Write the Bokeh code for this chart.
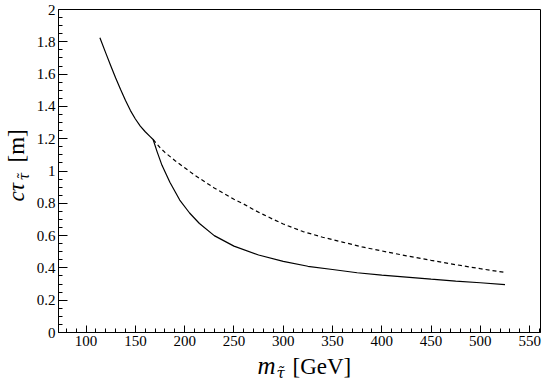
from bokeh.plotting import figure
from bokeh.models import Range1d, Title, FixedTicker
from bokeh.embed import file_html
from bokeh.resources import INLINE

# --- data ---
mass_solid = [114, 120, 125, 130, 135, 140, 145, 150, 155, 160, 165, 168, 172, 177,
              185, 195, 205, 215, 230, 250, 275, 300, 325, 350, 375, 400, 425, 450,
              475, 500, 525]
ctau_solid = [1.825, 1.73, 1.652, 1.576, 1.505, 1.437, 1.374, 1.322, 1.278, 1.243,
              1.213, 1.195, 1.12, 1.035, 0.93, 0.82, 0.74, 0.675, 0.60, 0.535, 0.48,
              0.44, 0.41, 0.39, 0.37, 0.355, 0.343, 0.33, 0.318, 0.308, 0.297]

mass_dash = [168, 175, 180, 190, 200, 210, 220, 230, 240, 250, 260, 270, 280, 290,
             300, 320, 340, 360, 380, 400, 425, 450, 475, 500, 525]
ctau_dash = [1.195, 1.145, 1.115, 1.065, 1.02, 0.975, 0.935, 0.895, 0.86, 0.825,
             0.795, 0.76, 0.73, 0.70, 0.672, 0.625, 0.59, 0.56, 0.53, 0.505, 0.475,
             0.447, 0.42, 0.395, 0.372]

x_ticks = [100, 150, 200, 250, 300, 350, 400, 450, 500, 550]
x_minor = [80, 90, 100, 110, 120, 130, 140, 150, 160, 170, 180, 190, 200, 210, 220,
           230, 240, 250, 260, 270, 280, 290, 300, 310, 320, 330, 340, 350, 360, 370,
           380, 390, 400, 410, 420, 430, 440, 450, 460, 470, 480, 490, 500, 510, 520,
           530, 540, 550, 560]
y_ticks = [0, 0.2, 0.4, 0.6, 0.8, 1, 1.2, 1.4, 1.6, 1.8, 2]
y_tick_labels = ["0", "0.2", "0.4", "0.6", "0.8", "1", "1.2", "1.4", "1.6", "1.8", "2"]
y_minor = [0.05, 0.1, 0.15, 0.25, 0.3, 0.35, 0.45, 0.5, 0.55, 0.65, 0.7, 0.75, 0.85,
           0.9, 0.95, 1.05, 1.1, 1.15, 1.25, 1.3, 1.35, 1.45, 1.5, 1.55, 1.65, 1.7,
           1.75, 1.85, 1.9, 1.95]

FONT = "Liberation Serif"
SUBFONT = "DejaVu Serif"

p = figure(width=545, height=388, x_range=Range1d(72, 561), y_range=Range1d(0, 2),
           output_backend="svg", toolbar_location=None,
           min_border_left=58, min_border_right=5, min_border_top=9,
           min_border_bottom=56)
p.grid.visible = False
p.outline_line_color = "black"
p.outline_line_alpha = 1
p.outline_line_width = 1
p.background_fill_color = "white"
p.border_fill_color = "white"

p.xaxis.ticker = FixedTicker(ticks=x_ticks, minor_ticks=x_minor)
p.yaxis.ticker = FixedTicker(ticks=y_ticks, minor_ticks=y_minor)
p.yaxis.major_label_overrides = {t: l for t, l in zip(y_ticks, y_tick_labels)}

for ax in (p.xaxis[0], p.yaxis[0]):
    ax.axis_line_color = "black"
    ax.axis_line_width = 1
    ax.major_tick_out = 0
    ax.minor_tick_out = 0
    ax.minor_tick_in = 4
    ax.major_tick_line_color = "black"
    ax.minor_tick_line_color = "black"
    ax.major_label_text_font = FONT
    ax.major_label_text_font_size = "15px"
    ax.major_label_text_color = "black"
    ax.major_label_standoff = 3
p.xaxis[0].major_tick_in = 7
p.yaxis[0].major_tick_in = 9

p.line(mass_solid, ctau_solid, line_color="black", line_width=1.2)
p.line(mass_dash, ctau_dash, line_color="black", line_width=1.2, line_dash="4 3")


def title(side, text, size, offset, standoff, style="normal", font=FONT,
          valign="middle"):
    p.add_layout(Title(text=text, align="left", vertical_align=valign,
                       offset=offset, standoff=standoff, text_font=font,
                       text_font_size=size, text_font_style=style,
                       text_color="black"), side)

# x-axis title: m_{tau~} [GeV]
title("below", "m", "25px", 199, -60.8, "italic", valign="bottom")
title("below", "[GeV]", "23px", 234, -60, valign="bottom")
title("below", "τ̃", "15px", 218, -67, "italic", SUBFONT, valign="bottom")

# y-axis title: c tau_{tau~} [m]
title("left", " ", "15px", 0, -16.25)
title("left", "τ̃", "14px", 152, -2.8, "italic", SUBFONT)
title("left", "cτ", "23px", 131, -32, "italic")
title("left", "[m]", "23px", 170, -32)

open("out.html", "w").write(file_html(p, INLINE))
